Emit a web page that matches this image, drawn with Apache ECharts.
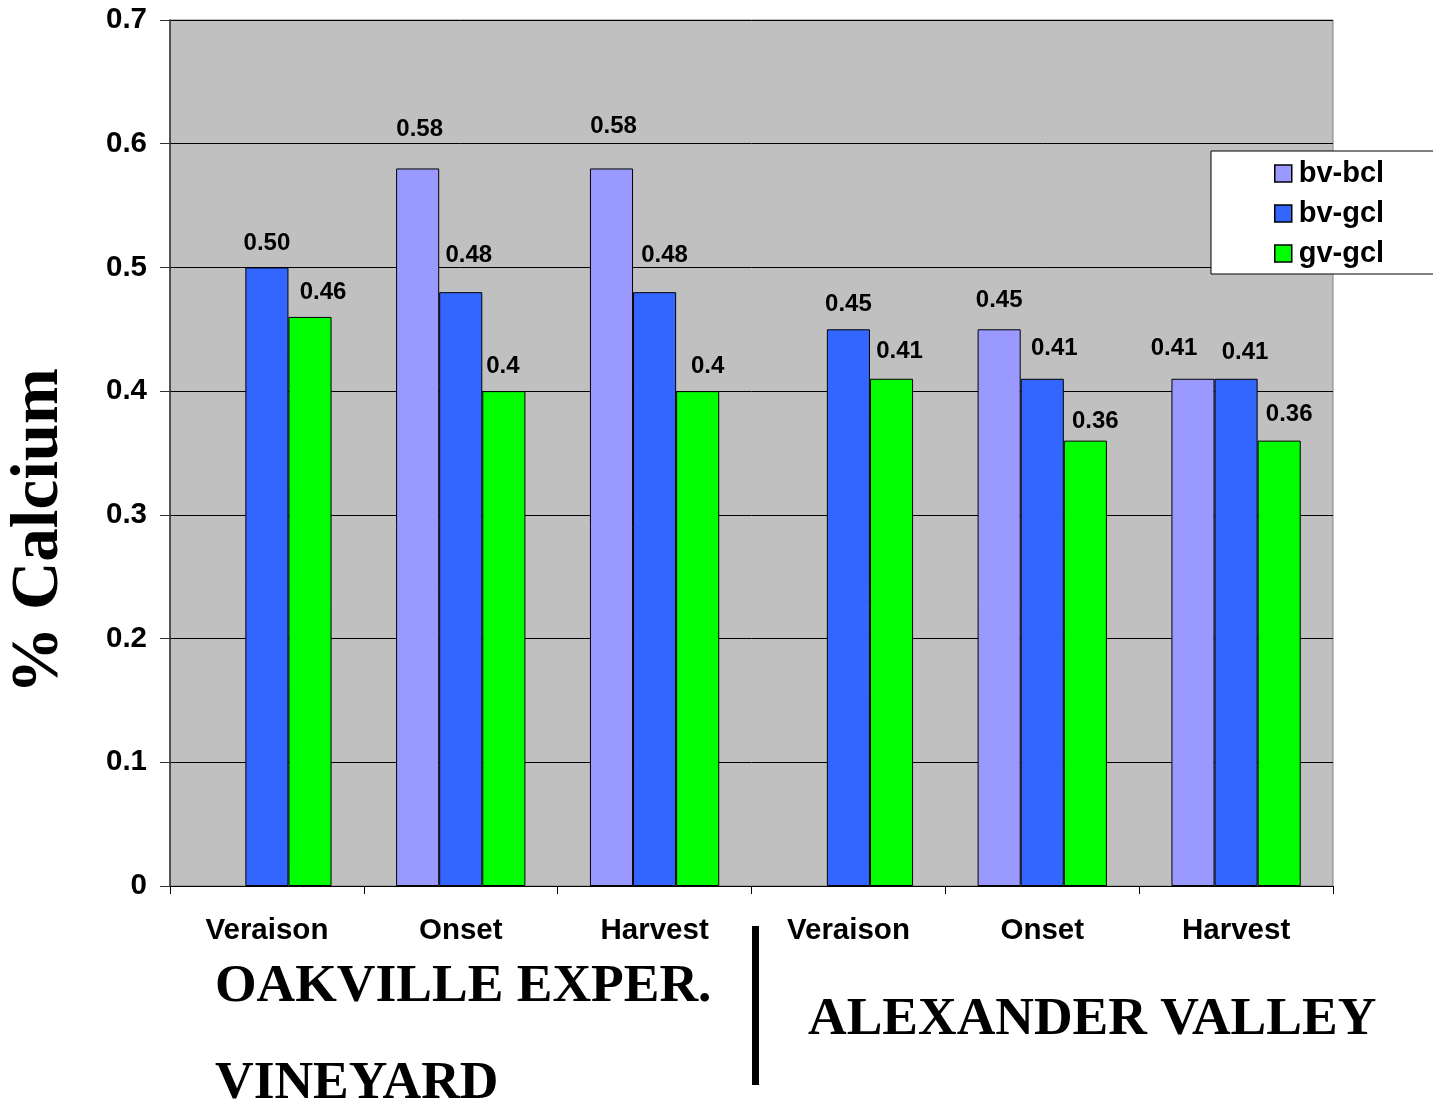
<!DOCTYPE html>
<html>
<head>
<meta charset="utf-8">
<title>% Calcium by stage and vineyard</title>
<script src="https://cdn.jsdelivr.net/npm/echarts@6/dist/echarts.min.js"></script>
<style>
  html, body { margin: 0; padding: 0; background: #ffffff; }
  #chart { width: 1433px; height: 1100px; }
</style>
</head>
<body>
<div id="chart"></div>
<script>
// Sampling stages, first three at Oakville, last three at Alexander Valley
const stages = ['Veraison', 'Onset', 'Harvest', 'Veraison', 'Onset', 'Harvest'];
const seriesNames = ['bv-bcl', 'bv-gcl', 'gv-gcl'];

// Values as printed above each bar (null = not sampled)
const bvBcl = [null, '0.58', '0.58', null, '0.45', '0.41'];
const bvGcl = ['0.50', '0.48', '0.48', '0.45', '0.41', '0.41'];
const gvGcl = ['0.46', '0.4', '0.4', '0.41', '0.36', '0.36'];

// Y axis ticks
const yTicks = [0, 0.1, 0.2, 0.3, 0.4, 0.5, 0.6, 0.7];

// Vineyard captions under the stage labels
const siteLeft = ['OAKVILLE EXPER.', 'VINEYARD'];
const siteRight = 'ALEXANDER VALLEY';

const colors = ['#9999FF', '#3366FF', '#00FF00'];
const SANS = '"Liberation Sans", Arial, sans-serif';
const SERIF = '"Liberation Serif", "Times New Roman", serif';

// Small per-label nudges [dx, dy] so value labels sit as in the layout
const labelNudge = [
  [[0, 0], [2, -15], [2, -18], [0, 0], [0, -4], [-19, -6]],
  [[0, 0], [8, -12], [10, -12], [0, 0], [12, -6], [9, -2]],
  [[13, 0], [-1, 0], [10, 0], [8, -3], [10, 5], [10, -2]]
];

function buildData(arr, si) {
  return arr.map(function (s, i) {
    if (s === null) return { value: null };
    const n = labelNudge[si][i];
    return {
      value: Number(s),
      label: { formatter: s, offset: [n[0], n[1]] }
    };
  });
}

const chart = echarts.init(document.getElementById('chart'), null, { renderer: 'canvas' });

const baseLabel = {
  show: true,
  position: 'top',
  distance: 13,
  color: '#000',
  fontFamily: SANS,
  fontWeight: 'bold',
  fontSize: 24,
  lineHeight: 23
};

const option = {
  animation: false,
  backgroundColor: '#ffffff',
  grid: {
    left: 170, right: 100, top: 20, bottom: 214,
    show: true,
    backgroundColor: '#C0C0C0',
    borderColor: '#808080',
    borderWidth: 1
  },
  legend: {
    data: seriesNames,
    orient: 'vertical',
    left: 1211, top: 151,
    backgroundColor: '#ffffff',
    borderColor: '#000000',
    borderWidth: 1,
    padding: [8, 60, 6, 63],
    itemWidth: 17, itemHeight: 17,
    itemGap: 11,
    icon: 'rect',
    itemStyle: { borderColor: '#000', borderWidth: 1.5 },
    textStyle: {
      fontFamily: SANS, fontWeight: 'bold', fontSize: 29, color: '#000',
      lineHeight: 28, padding: [0, 0, 0, 2]
    }
  },
  xAxis: {
    type: 'category',
    data: stages,
    axisLine: { show: true, lineStyle: { color: '#000', width: 1 } },
    axisTick: { show: true, alignWithLabel: false, length: 8, lineStyle: { color: '#000' } },
    axisLabel: {
      interval: 0, margin: 30, color: '#000',
      fontFamily: SANS, fontWeight: 'bold', fontSize: 29.5, lineHeight: 29
    },
    splitLine: { show: false }
  },
  yAxis: {
    type: 'value',
    min: yTicks[0], max: yTicks[yTicks.length - 1], interval: 0.1,
    axisLine: { show: true, lineStyle: { color: '#333', width: 1.5 } },
    axisTick: { show: true, length: 10, lineStyle: { color: '#333' } },
    axisLabel: {
      margin: 23, color: '#000',
      fontFamily: SANS, fontWeight: 'bold', fontSize: 29.5,
      formatter: function (v) { return v === 0 ? '0' : v.toFixed(1); }
    },
    splitLine: { show: true, lineStyle: { color: '#000', width: 1 } }
  },
  series: [bvBcl, bvGcl, gvGcl].map(function (arr, si) {
    return {
      name: seriesNames[si],
      type: 'bar',
      barGap: '0%',
      barCategoryGap: '33.3%',
      itemStyle: { color: colors[si], borderColor: '#000', borderWidth: 1 },
      label: baseLabel,
      data: buildData(arr, si)
    };
  }),
  graphic: [
    {
      type: 'text', x: 40, y: 531, rotation: Math.PI / 2,
      style: {
        text: '% Calcium', fill: '#000',
        font: 'bold 67px ' + SERIF,
        textAlign: 'center', textVerticalAlign: 'middle'
      }
    },
    {
      type: 'text', x: 215, y: 987,
      style: {
        text: siteLeft[0], fill: '#000',
        font: 'bold 53.5px ' + SERIF,
        textAlign: 'left', textVerticalAlign: 'middle'
      }
    },
    {
      type: 'text', x: 215, y: 1084,
      style: {
        text: siteLeft[1], fill: '#000',
        font: 'bold 53.5px ' + SERIF,
        textAlign: 'left', textVerticalAlign: 'middle'
      }
    },
    {
      type: 'text', x: 808, y: 1020,
      style: {
        text: siteRight, fill: '#000',
        font: 'bold 53.5px ' + SERIF,
        textAlign: 'left', textVerticalAlign: 'middle'
      }
    },
    {
      type: 'rect',
      shape: { x: 752, y: 926, width: 7, height: 159 },
      style: { fill: '#000' }
    }
  ]
};

chart.setOption(option);
</script>
</body>
</html>
